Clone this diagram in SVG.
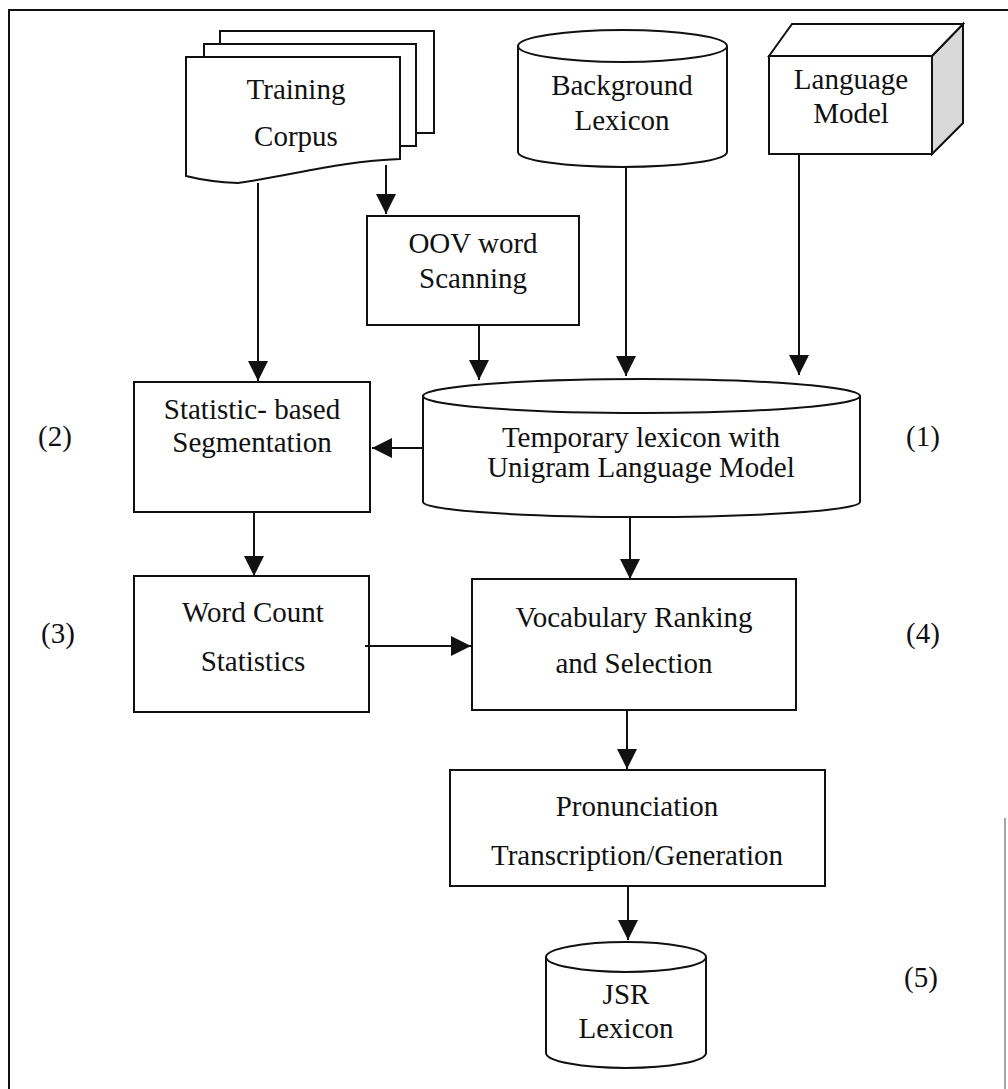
<svg xmlns="http://www.w3.org/2000/svg" width="1008" height="1089" viewBox="0 0 1008 1089">
<style>
.s{fill:#fff;stroke:#111;stroke-width:2}
.t{font-family:"Liberation Serif","Times New Roman",serif;font-size:29px;fill:#111;text-anchor:middle}
.c{stroke:#111;stroke-width:2;fill:none}
</style>
<defs>
<marker id="ah" markerUnits="userSpaceOnUse" markerWidth="22" markerHeight="20" refX="20" refY="10" orient="auto">
<path d="M0,0 L20,10 L0,20 z" fill="#111"/>
</marker>
</defs>
<rect width="1008" height="1089" fill="#fff"/>
<g id="frame" class="c">
<path d="M9,1089 L9,10 L1008,10"/>
<path d="M1005,818 L1005,1089" stroke="#888" stroke-width="1.5"/>
</g>
<g id="training-corpus">
<rect class="s" x="220" y="31" width="214" height="102"/>
<rect class="s" x="204" y="44" width="212" height="102"/>
<path class="s" d="M186,57 L400,57 L400,159 C340,161 290,176 238,183 Q210,182 186,176 Z"/>
<text class="t" x="296" y="99">Training</text>
<text class="t" x="296" y="146">Corpus</text>
</g>
<g id="background-lexicon">
<path class="s" d="M518,46 L518,152 A104.5,15 0 0 0 727,152 L727,46"/>
<ellipse class="s" cx="622.5" cy="46" rx="104.5" ry="16"/>
<text class="t" x="622" y="95">Background</text>
<text class="t" x="622" y="130">Lexicon</text>
</g>
<g id="language-model">
<path d="M932,56 L963,24 L963,123 L932,154 Z" fill="#d9d9d9" stroke="#111" stroke-width="2"/>
<path class="s" d="M769,56 L792,24 L963,24 L932,56 Z"/>
<rect class="s" x="769" y="56" width="163" height="98"/>
<text class="t" x="851" y="89">Language</text>
<text class="t" x="851" y="123">Model</text>
</g>
<g id="oov-scanning">
<rect class="s" x="367" y="216" width="212" height="109"/>
<text class="t" x="473" y="253">OOV word</text>
<text class="t" x="473" y="288">Scanning</text>
</g>
<g id="temporary-lexicon">
<path class="s" d="M423,396 L423,502 A218.5,15 0 0 0 860,502 L860,396"/>
<ellipse class="s" cx="641.5" cy="396" rx="218.5" ry="17"/>
<text class="t" x="641" y="447">Temporary lexicon with</text>
<text class="t" x="641" y="477">Unigram Language Model</text>
</g>
<g id="segmentation">
<rect class="s" x="134" y="382" width="236" height="130"/>
<text class="t" x="252" y="419">Statistic- based</text>
<text class="t" x="252" y="452">Segmentation</text>
</g>
<g id="word-count">
<rect class="s" x="134" y="576" width="235" height="136"/>
<text class="t" x="253" y="622">Word Count</text>
<text class="t" x="253" y="671">Statistics</text>
</g>
<g id="vocabulary-ranking">
<rect class="s" x="472" y="579" width="324" height="131"/>
<text class="t" x="634" y="627">Vocabulary Ranking</text>
<text class="t" x="634" y="673">and Selection</text>
</g>
<g id="pronunciation">
<rect class="s" x="450" y="770" width="375" height="116"/>
<text class="t" x="637" y="816">Pronunciation</text>
<text class="t" x="637" y="865">Transcription/Generation</text>
</g>
<g id="jsr-lexicon">
<path class="s" d="M546,957 L546,1053 A80,15 0 0 0 706,1053 L706,957"/>
<ellipse class="s" cx="626" cy="957" rx="80" ry="15"/>
<text class="t" x="626" y="1004">JSR</text>
<text class="t" x="626" y="1038">Lexicon</text>
</g>
<g id="step-labels" class="t">
<text x="55" y="446">(2)</text>
<text x="923" y="446">(1)</text>
<text x="58" y="643">(3)</text>
<text x="923" y="643">(4)</text>
<text x="921" y="987">(5)</text>
</g>
<g id="connectors" class="c" marker-end="url(#ah)">
<path d="M258,183 L258,381"/>
<path d="M386,165 L386,214"/>
<path d="M479,325 L479,380"/>
<path d="M626,167 L626,376"/>
<path d="M799,154 L799,375"/>
<path d="M423,448 L372,448"/>
<path d="M254,512 L254,576"/>
<path d="M365,646 L471,646"/>
<path d="M630,517 L630,579"/>
<path d="M627,710 L627,769"/>
<path d="M628,886 L628,940"/>
</g>
</svg>
